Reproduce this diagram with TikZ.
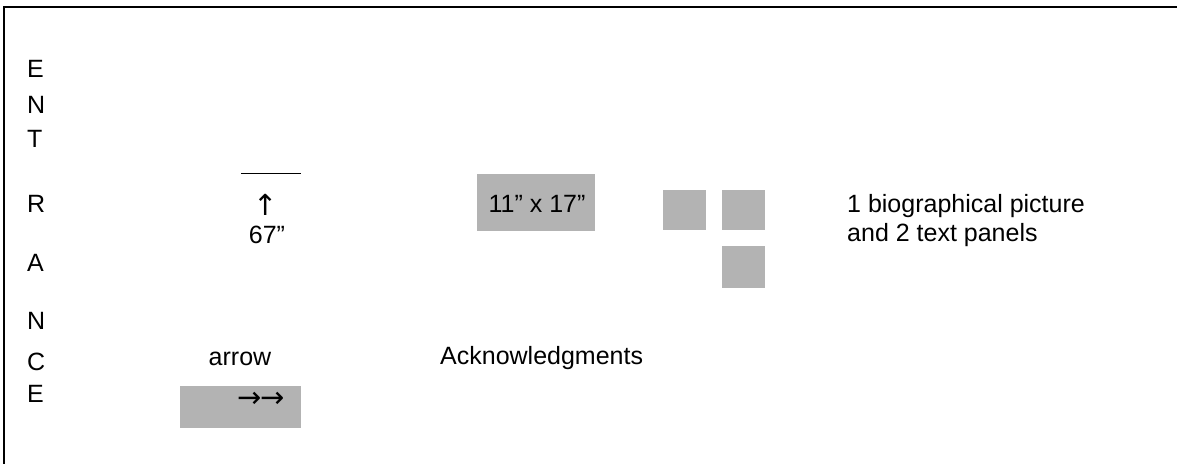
\documentclass[tikz,border=0pt]{standalone}
\usepackage{fontspec}
\setmainfont{Liberation Sans}
\newfontfamily\arrowfont{DejaVu Sans}
\definecolor{panelgray}{HTML}{B3B3B3}
\tikzset{
  lbl/.style={inner sep=0pt, font=\fontsize{25}{29}\selectfont},
  arw/.style={inner sep=0pt, font=\arrowfont\fontsize{29}{32}\selectfont},
  panel/.style={fill=panelgray, draw=none, inner sep=0pt, anchor=north west},
}
\begin{document}
\begin{tikzpicture}[x=1pt,y=-1pt]
\useasboundingbox (0,0) rectangle (1177,464);
\draw[line width=1.4pt] (1177,7) -- (4,7) -- (4,464);
% ENTRANCE letters
\node[lbl, anchor=west] (e1) at (27,69) {E};
\node[lbl, anchor=west] (n1) at (27,105) {N};
\node[lbl, anchor=west] (t1) at (27,139) {T};
\node[lbl, anchor=west] (r1) at (27,204) {R};
\node[lbl, anchor=west] (a1) at (27,263) {A};
\node[lbl, anchor=west] (n2) at (27,321) {N};
\node[lbl, anchor=west] (c1) at (27,362) {C};
\node[lbl, anchor=west] (e2) at (27,394) {E};
% height marker
\coordinate (hl) at (241,173);
\coordinate (hr) at (301,173);
\draw[line width=1pt] (hl) -- (hr);
\node[arw] (up) at (266,205) {↑};
\node[lbl] (h67) at (267,235) {67”};
% arrow panel
\node[lbl] (arrowlbl) at (240,359) {arrow};
\node[panel, minimum width=121pt, minimum height=42pt] (arrowbox) at (180,386) {};
\node[arw] (arrows) at (261,400) {→\kern-1pt→};
% poster
\node[panel, minimum width=118pt, minimum height=57pt] (poster) at (477,174) {};
\node[lbl] (postertxt) at (537,204) {11” x 17”};
% small panels
\node[panel, minimum width=43pt, minimum height=40pt] (p1) at (663,190) {};
\node[panel, minimum width=43pt, minimum height=40pt] (p2) at (722,190) {};
\node[panel, minimum width=43pt, minimum height=42pt] (p3) at (722,246) {};
\node[lbl, anchor=west] (bio1) at (847,206) {1 biographical picture};
\node[lbl, anchor=west] (bio2) at (847,235) {and 2 text panels};
% acknowledgments
\node[lbl, anchor=west] (ack) at (440,358) {Acknowledgments};
\end{tikzpicture}
\end{document}
